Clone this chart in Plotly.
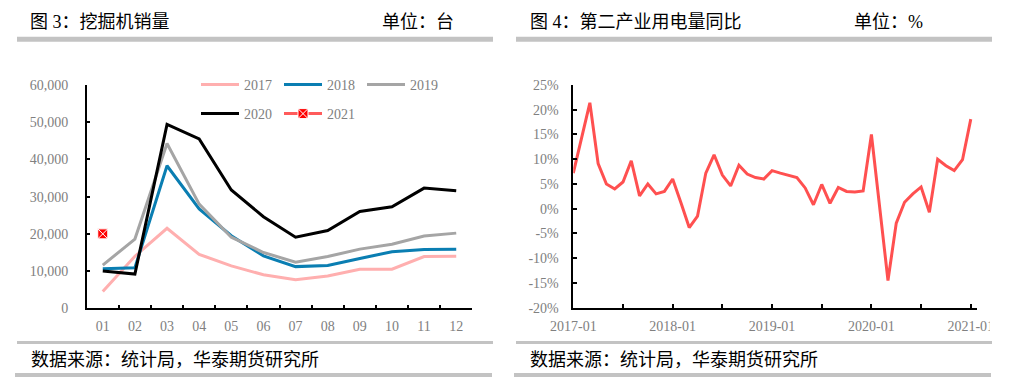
import plotly.graph_objects as go

W, H = 1010, 389

# ---------------- data ----------------
months = ["01", "02", "03", "04", "05", "06", "07", "08", "09", "10", "11", "12"]
sales_2017 = [4500, 14000, 21500, 14500, 11400, 9000, 7700, 8700, 10500, 10500, 13900, 14000]
sales_2018 = [10600, 10900, 38300, 26700, 19500, 14100, 11200, 11500, 13400, 15200, 15800, 15900]
sales_2019 = [11600, 18600, 44300, 28000, 19100, 15000, 12400, 13900, 15900, 17200, 19400, 20200]
sales_2020 = [10000, 9200, 49400, 45500, 31800, 24600, 19100, 20900, 26000, 27300, 32300, 31600]
sales_2021 = [20000]
left_yticks = [0, 10000, 20000, 30000, 40000, 50000, 60000]

elec_yoy = [7.2, 14.3, 21.4, 9.1, 5.0, 4.0, 5.4, 9.7, 2.6, 5.0, 3.0, 3.5,
            6.0, 1.2, -3.8, -1.5, 7.2, 10.9, 6.8, 4.6, 8.8, 7.0, 6.3, 6.0,
            7.7, 7.2, 6.7, 6.3, 4.2, 0.8, 4.9, 1.1, 4.3, 3.5, 3.4, 3.6,
            15.0, 0.0, -14.5, -2.9, 1.3, 3.0, 4.4, -0.7, 10.0, 8.7, 7.7, 9.9,
            18.1]
elec_months = list(range(len(elec_yoy)))
right_xtickvals = [0, 6, 12, 18, 24, 30, 36, 42, 48]
right_xticktext = ["2017-01", "", "2018-01", "", "2019-01", "", "2020-01", "", "2021-01"]
right_ytickvals = [-20, -15, -10, -5, 0, 5, 10, 15, 20, 25]
right_yticktext = ["-20%", "-15%", "-10%", "-5%", "0%", "5%", "10%", "15%", "20%", "25%"]

# ---------------- helpers ----------------
def px(x):
    return x / W

def py(y):
    return 1 - y / H

TICK_FONT = dict(family="Liberation Serif, Times New Roman, serif", size=14, color="#808080")
CJK = "Liberation Serif, Noto Sans CJK SC, sans-serif"

fig = go.Figure()

series = [
    ("2017", sales_2017, "#FFAFAF", "legend"),
    ("2018", sales_2018, "#0A7EB2", "legend"),
    ("2019", sales_2019, "#A5A5A5", "legend"),
    ("2020", sales_2020, "#000000", "legend2"),
]
for name, vals, color, lg in series:
    fig.add_trace(go.Scatter(
        x=months[:len(vals)], y=vals, name=name, mode="lines",
        line=dict(color=color, width=3), xaxis="x", yaxis="y", legend=lg,
    ))
fig.add_trace(go.Scatter(
    x=months[:len(sales_2021)], y=sales_2021, name="2021", mode="lines+markers",
    line=dict(color="#FF5B5B", width=3),
    marker=dict(symbol="square-x", size=10, color="#FF0000", line=dict(color="#FFFFFF", width=1)),
    xaxis="x", yaxis="y", legend="legend2",
))

fig.add_trace(go.Scatter(
    x=elec_months, y=elec_yoy, mode="lines", showlegend=False,
    line=dict(color="#FF5050", width=3), xaxis="x2", yaxis="y2",
))

axis_common = dict(
    showgrid=False, zeroline=False, showline=True, linecolor="#000000", linewidth=1.5,
    ticks="inside", ticklen=4, tickwidth=1.5, tickcolor="#000000", tickfont=TICK_FONT,
    automargin=False,
)

fig.update_layout(
    width=W, height=H, autosize=False,
    margin=dict(l=0, r=0, t=0, b=0, pad=0, autoexpand=False),
    paper_bgcolor="white", plot_bgcolor="white",
    xaxis=dict(domain=[px(86.7), px(472.3)], type="category", range=[-0.5, 11.5],
               tickson="boundaries", anchor="y", ticklabelstandoff=4, **axis_common),
    yaxis=dict(domain=[py(308.3), py(85)], range=[0, 60000], tickvals=left_yticks,
               tickformat=",", anchor="x", ticklabelstandoff=14, **axis_common),
    xaxis2=dict(domain=[px(573.3), px(977)], range=[0, 48.75], tickvals=right_xtickvals,
                ticktext=right_xticktext, anchor="y2", ticklabelstandoff=5, **axis_common),
    yaxis2=dict(domain=[py(307.7), py(85)], range=[-20, 25], tickvals=right_ytickvals,
                ticktext=right_yticktext, anchor="x2", ticklabelstandoff=10, **axis_common),
    legend=dict(orientation="h", x=px(196), xanchor="left", y=py(85), yanchor="middle",
                font=TICK_FONT, entrywidth=30, bgcolor="rgba(0,0,0,0)", itemwidth=38),
    legend2=dict(orientation="h", x=px(196), xanchor="left", y=py(114), yanchor="middle",
                 font=TICK_FONT, entrywidth=30, bgcolor="rgba(0,0,0,0)", itemwidth=38),
)

# gray rules
shapes = []
for off in (0, 499):
    for (x0, x1, y0, y1) in [(17, 493, 36.7, 41.7), (17, 493, 341, 344), (15, 492, 373, 377)]:
        shapes.append(dict(type="rect", xref="paper", yref="paper",
                           x0=px(x0 + off), x1=px(x1 + off), y0=py(y1), y1=py(y0),
                           fillcolor="#C3C3C3", line=dict(width=0), layer="above"))
# clip of the right panel frame
shapes.append(dict(type="rect", xref="paper", yref="paper", x0=px(990), x1=1, y0=py(336), y1=py(314),
                   fillcolor="white", line=dict(width=0), layer="above"))
fig.update_layout(shapes=shapes)

titles = [
    ("图 3：挖掘机销量", 28), ("单位：台", 380),
    ("图 4：第二产业用电量同比", 528), ("单位：%", 852),
]
ann = []
for text, x in titles:
    ann.append(dict(text=text, x=px(x), y=py(22), xref="paper", yref="paper", xanchor="left",
                    yanchor="middle", showarrow=False, font=dict(family=CJK, size=18, color="#000000")))
for x in (29, 528):
    ann.append(dict(text="数据来源：统计局，华泰期货研究所", x=px(x), y=py(360), xref="paper", yref="paper",
                    xanchor="left", yanchor="middle", showarrow=False,
                    font=dict(family=CJK, size=18, color="#000000")))
fig.update_layout(annotations=ann)

fig.write_html("out.html", config={"displayModeBar": False},
               post_script="document.body.style.margin='0';document.body.style.padding='0';")
